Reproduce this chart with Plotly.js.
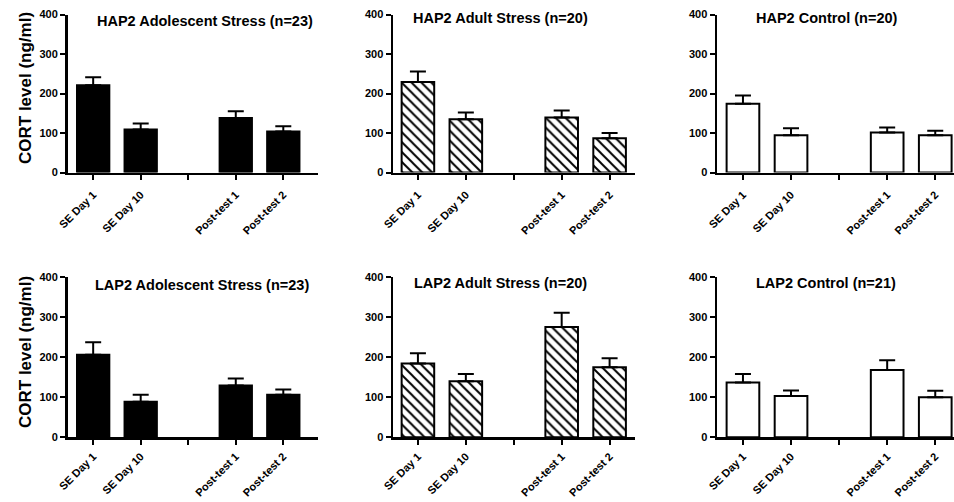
<!DOCTYPE html>
<html>
<head>
<meta charset="utf-8">
<script src="https://cdn.plot.ly/plotly-3.0.1.min.js"></script>
<style>html,body{margin:0;padding:0;background:#fff}#chart{width:954px;height:502px}</style>
</head>
<body>
<div id="chart"></div>
<script>
// ---- data ----
const categories = ["SE Day 1", "SE Day 10", "Post-test 1", "Post-test 2"];
const axisCategories = ["SE Day 1", "SE Day 10", " ", "Post-test 1", "Post-test 2"];
const panelTitles = [
  "HAP2 Adolescent Stress (n=23)", "HAP2 Adult Stress (n=20)", "HAP2 Control (n=20)",
  "LAP2 Adolescent Stress (n=23)", "LAP2 Adult Stress (n=20)", "LAP2 Control (n=21)"
];
const hap2AdolescentMean = [221, 109, 138, 104];
const hap2AdolescentSem  = [20, 15, 17, 13];
const hap2AdultMean      = [229, 135, 139, 87];
const hap2AdultSem       = [27, 17, 18, 13];
const hap2ControlMean    = [174, 94, 101, 94];
const hap2ControlSem     = [21, 18, 13, 12];
const lap2AdolescentMean = [206, 89, 129, 106];
const lap2AdolescentSem  = [31, 17, 18, 13];
const lap2AdultMean      = [184, 140, 275, 175];
const lap2AdultSem       = [26, 18, 36, 22];
const lap2ControlMean    = [137, 103, 168, 100];
const lap2ControlSem     = [21, 14, 24, 16];
const yTicks = [0, 100, 200, 300, 400];
const yTitle = "CORT level (ng/ml)";

// ---- layout ----
const W = 954, H = 502;
const FONT = "Liberation Sans, Arial, sans-serif";
const means = [hap2AdolescentMean, hap2AdultMean, hap2ControlMean, lap2AdolescentMean, lap2AdultMean, lap2ControlMean];
const sems  = [hap2AdolescentSem, hap2AdultSem, hap2ControlSem, lap2AdolescentSem, lap2AdultSem, lap2ControlSem];
const styles = ["solid", "hatch", "open", "solid", "hatch", "open"];
const colPx = [[67.5, 318, -0.54, 4.73], [393, 635, -0.52, 4.53], [717, 954, -0.54, 4.39]];
const rowPx = [[14.5, 172.5], [277, 437.3]];
const rowStandoff = [4, 1];
const titlePos = [[205, 21], [500, 18], [827, 18], [202, 285], [500, 283], [826, 283]];

const traces = [];
const layout = {
  width: W, height: H, margin: {l: 0, r: 0, t: 0, b: 0},
  paper_bgcolor: "#fff", plot_bgcolor: "#fff", showlegend: false,
  font: {family: FONT, color: "#000"},
  annotations: [], bargap: 0.32
};

for (let i = 0; i < 6; i++) {
  const col = i % 3, row = Math.floor(i / 3);
  const n = i + 1;
  const xa = n === 1 ? "xaxis" : "xaxis" + n;
  const ya = n === 1 ? "yaxis" : "yaxis" + n;
  const st = styles[i];
  const marker = {line: {color: "#000", width: 2}};
  if (st === "solid") marker.color = "#000";
  else if (st === "open") marker.color = "#fff";
  else { marker.color = "#fff"; marker.pattern = {shape: "\\", fgcolor: "#000", bgcolor: "#fff", size: 7, solidity: 0.28}; }
  traces.push({
    type: "bar", x: categories, y: means[i],
    xaxis: "x" + (n === 1 ? "" : n), yaxis: "y" + (n === 1 ? "" : n),
    marker: marker, width: 0.68,
    error_y: {type: "data", symmetric: false, array: sems[i], arrayminus: sems[i].map(() => 0),
              color: "#000", thickness: 2, width: 8},
    hoverinfo: "skip"
  });
  const c = colPx[col], r = rowPx[row];
  layout[xa] = {
    domain: [c[0] / W, c[1] / W], anchor: "y" + (n === 1 ? "" : n),
    type: "category", categoryorder: "array", categoryarray: axisCategories,
    range: [c[2], c[3]], showgrid: false, zeroline: false,
    showline: true, linecolor: "#000", linewidth: 2.5,
    ticks: "outside", ticklen: 5, tickwidth: 2, tickcolor: "#000",
    ticklabelstandoff: rowStandoff[row],
    tickangle: -45, tickfont: {family: FONT, size: 11, weight: "bold", color: "#000"},
    fixedrange: true
  };
  layout[ya] = {
    domain: [1 - r[1] / H, 1 - r[0] / H], anchor: "x" + (n === 1 ? "" : n),
    range: [0, 400], tickvals: yTicks, showgrid: false, zeroline: false,
    showline: true, linecolor: "#000", linewidth: 2.5,
    ticks: "outside", ticklen: 5, tickwidth: 2, tickcolor: "#000",
    tickfont: {family: FONT, size: 11, weight: "bold", color: "#000"},
    fixedrange: true
  };
  layout.annotations.push({
    text: panelTitles[i], xref: "paper", yref: "paper",
    x: titlePos[i][0] / W, y: 1 - titlePos[i][1] / H, xanchor: "center", yanchor: "middle",
    showarrow: false, font: {family: FONT, size: 14.5, weight: "bold", color: "#000"}
  });
}
// y-axis titles for left column
[[25, 88], [25, 352]].forEach(p => {
  layout.annotations.push({
    text: yTitle, xref: "paper", yref: "paper", x: p[0] / W, y: 1 - p[1] / H,
    xanchor: "center", yanchor: "middle", textangle: -90, showarrow: false,
    font: {family: FONT, size: 17, weight: "bold", color: "#000"}
  });
});

Plotly.newPlot("chart", traces, layout, {displayModeBar: false, staticPlot: true});
</script>
</body>
</html>
